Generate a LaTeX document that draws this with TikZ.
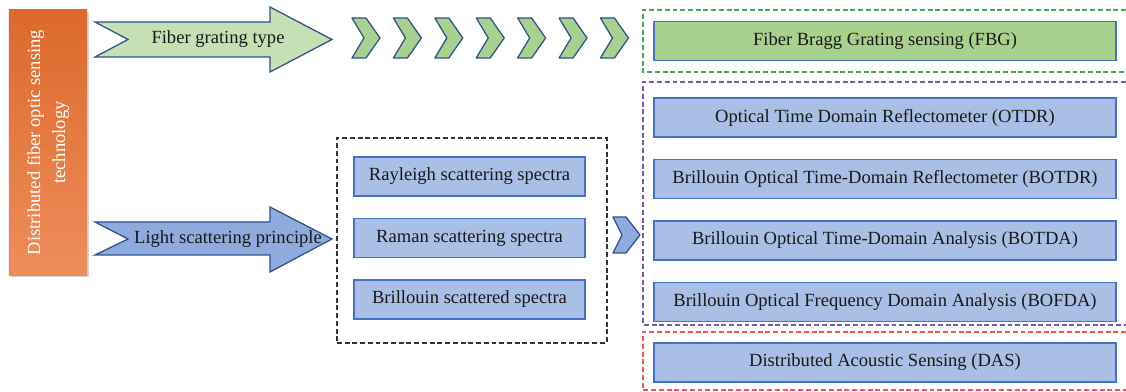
\documentclass[tikz,border=0pt]{standalone}
\usepackage{fontspec}
\setmainfont{Liberation Serif}
\usetikzlibrary{positioning,fit,shadows}

\definecolor{edgeblue}{HTML}{2F528F}
\definecolor{lineblue}{HTML}{4472C4}
\definecolor{boxblue}{HTML}{A9BFE5}
\definecolor{arrblue}{HTML}{8FAADC}
\definecolor{palegreen}{HTML}{C5E0B4}
\definecolor{leafgreen}{HTML}{A9D18E}
\definecolor{ordark}{HTML}{DC692B}
\definecolor{orlight}{HTML}{EE8D5C}
\definecolor{gdash}{HTML}{44A853}
\definecolor{pdash}{HTML}{7A58A6}
\definecolor{rdash}{HTML}{F2554D}

\begin{document}
\begin{tikzpicture}[x=0.025cm,y=-0.025cm,
  every node/.style={font=\fontsize{13.2}{17.8}\selectfont,text=black!90},
  item/.style={draw=lineblue,line width=1pt,fill=boxblue,minimum height=0.975cm,inner sep=0pt},
  wide/.style={item,minimum width=11.55cm},
  narrow/.style={item,minimum width=5.775cm},
  fatarrow/.style={draw=edgeblue,line width=0.9pt},
  chev/.style={draw=edgeblue,line width=0.9pt,line join=round},
  frame/.style={line width=1.1pt,dash pattern=on 3.5pt off 2pt}]
  \useasboundingbox (0,0) rectangle (1126,392);
  % technology column
  \node[rotate=90,minimum width=6.625cm,minimum height=1.95cm,
    top color=ordark,bottom color=orlight,text=white,align=center,
    drop shadow={shadow xshift=1.5pt,shadow yshift=-1.5pt,opacity=0.35}]
    (dfos) at (48,142.5) {Distributed fiber optic sensing\\technology};
  % two branches
  \draw[fatarrow,fill=palegreen] (95,22) -- (270,22) -- (270,7) -- (332,39.5)
    -- (270,72) -- (270,57) -- (95,57) -- (128,39.5) -- cycle;
  \node (grating) at (218,39.5) {Fiber grating type};
  \draw[fatarrow,fill=arrblue] (95,222) -- (270,222) -- (270,207) -- (332,239)
    -- (270,272) -- (270,255) -- (95,255) -- (128,239) -- cycle;
  \node (scatter) at (228,239) {Light scattering principle};
  \foreach \i in {0,...,6}
    \draw[chev,fill=leafgreen,xshift=\i*1.035cm] (352,18) -- (366,18) -- (380,38)
      -- (366,58) -- (352,58) -- (364,38) -- cycle;
  % spectra
  \node[narrow] (ray) at (469.5,176.5) {Rayleigh scattering spectra};
  \node[narrow,below=0.525cm of ray] (ram) {Raman scattering spectra};
  \node[narrow,below=0.525cm of ram] (bri) {Brillouin scattered spectra};
  \node[frame,draw=black!80,fit=(ray)(bri),inner xsep=0.47cm,inner ysep=0.52cm,
    xshift=0.06cm,yshift=-0.06cm] (spec) {};
  \draw[chev,fill=arrblue] (613,217) -- (626,217) -- (640,235) -- (626,253)
    -- (613,253) -- (622,235) -- cycle;
  % sensing methods
  \node[wide,fill=leafgreen] (fbg) at (885,41) {Fiber Bragg Grating sensing (FBG)};
  \node[wide] (otdr) at (885,117.5) {Optical Time Domain Reflectometer (OTDR)};
  \node[wide,below=0.525cm of otdr] (botdr) {Brillouin Optical Time-Domain Reflectometer (BOTDR)};
  \node[wide,below=0.525cm of botdr] (botda) {Brillouin Optical Time-Domain Analysis (BOTDA)};
  \node[wide,below=0.525cm of botda] (bofda) {Brillouin Optical Frequency Domain Analysis (BOFDA)};
  \node[wide] (das) at (885,362.5) {Distributed Acoustic Sensing (DAS)};
  \draw[frame,draw=gdash] (1126,10) -- (643,10) -- (643,72) -- (1126,72);
  \draw[frame,draw=pdash] (1126,82) -- (643,82) -- (643,325) -- (1126,325);
  \draw[frame,draw=rdash] (1126,332) -- (643,332) -- (643,390) -- (1126,390);
\end{tikzpicture}
\end{document}
